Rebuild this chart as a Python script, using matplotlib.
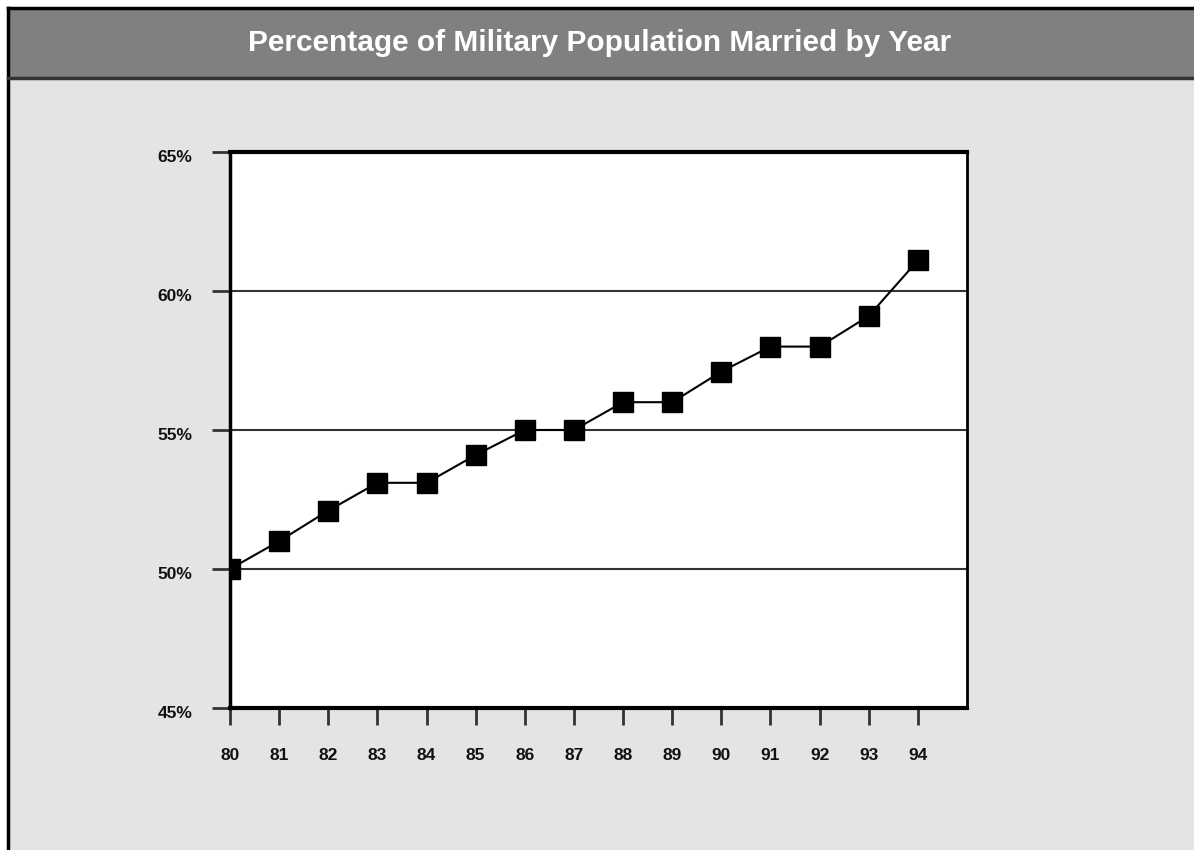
import matplotlib
matplotlib.use("Agg")
import matplotlib.pyplot as plt
import matplotlib.transforms as mtransforms
from matplotlib.patches import Rectangle
from matplotlib.lines import Line2D

years = [80, 81, 82, 83, 84, 85, 86, 87, 88, 89, 90, 91, 92, 93, 94]
pct_married = [50.0, 51.0, 52.1, 53.1, 53.1, 54.1, 55.0, 55.0, 56.0, 56.0, 57.1, 58.0, 58.0, 59.1, 61.1]
year_labels = [str(y) for y in years]
y_ticks = [45, 50, 55, 60, 65]
y_labels = ["45%", "50%", "55%", "60%", "65%"]
title = "Percentage of Military Population Married by Year"

W, H = 1194, 850
fig = plt.figure(figsize=(W / 100, H / 100), dpi=100)
fig.patch.set_facecolor("white")

# background panel
fig.patches.append(Rectangle((7.5 / W, 0), 1, 1 - 7.5 / H, transform=fig.transFigure,
                             facecolor="#e4e4e4", edgecolor="none", zorder=-3))
# title bar
fig.patches.append(Rectangle((7.5 / W, 1 - 77.5 / H), 1, 70 / H, transform=fig.transFigure,
                             facecolor="#808080", edgecolor="none", zorder=-2))
# border lines
for xs, ys, c in [([7.5 / W, 7.5 / W], [0, 1 - 7.5 / H], "black"),
                  ([7.5 / W, 1], [1 - 7.5 / H, 1 - 7.5 / H], "black"),
                  ([7.5 / W, 1], [1 - 77.5 / H, 1 - 77.5 / H], "#333333")]:
    fig.lines.append(Line2D(xs, ys, transform=fig.transFigure, color=c, lw=2.5, zorder=-1))

fig.text(600 / W, 1 - 43 / H, title, ha="center", va="center", color="white",
         fontsize=21.5, fontweight="bold", family="Liberation Sans", zorder=4)

ax = fig.add_axes([230 / W, 1 - 708 / H, (967 - 230) / W, (708 - 152) / H])
ax.set_zorder(2)
ax.set_facecolor("white")
ax.set_xlim(80, 95)
ax.set_ylim(45, 65)

for yv in y_ticks[1:-1]:
    ax.axhline(yv, color="#333333", lw=1.5, zorder=1)

ax.plot(years, pct_married, color="black", lw=1.5, marker="s", markersize=15,
        markerfacecolor="black", markeredgecolor="black", zorder=3)

ax.set_xticks(years)
ax.set_xticklabels(year_labels)
ax.set_yticks(y_ticks)
ax.set_yticklabels(y_labels)
ax.tick_params(axis="x", direction="out", length=12, width=2, color="#333333", pad=17)
ax.tick_params(axis="y", direction="out", length=13, width=2, color="#333333", pad=14)
for lab in ax.get_xticklabels() + ax.get_yticklabels():
    lab.set_fontfamily("Liberation Sans")
    lab.set_fontweight("bold")
    lab.set_fontsize(12.5)
    lab.set_color("#111111")
offset = mtransforms.ScaledTranslation(0, -3 / 72, fig.dpi_scale_trans)
for lab in ax.get_yticklabels():
    lab.set_transform(lab.get_transform() + offset)

ax.spines["top"].set_linewidth(3)
ax.spines["bottom"].set_linewidth(3)
ax.spines["left"].set_linewidth(2.5)
ax.spines["right"].set_linewidth(2)
for s in ax.spines.values():
    s.set_color("black")
    s.set_zorder(5)

fig.savefig("out.png", dpi=100)
